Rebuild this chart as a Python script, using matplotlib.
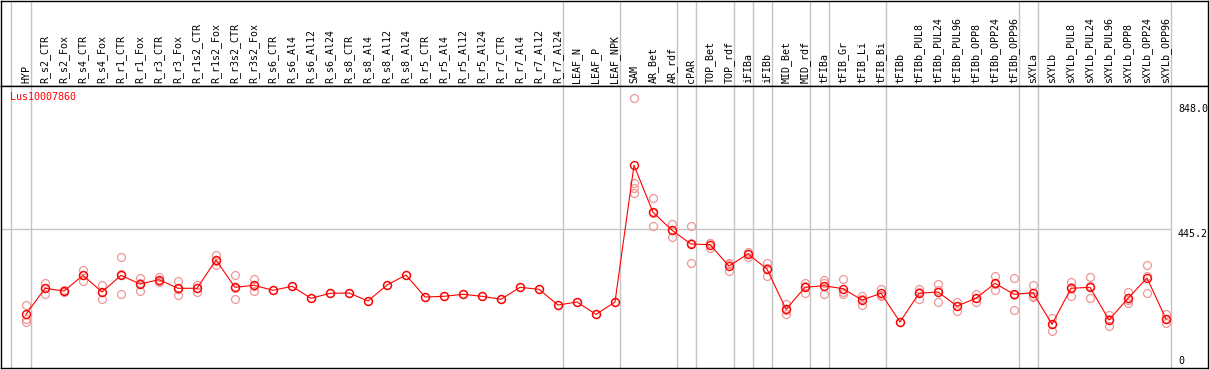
import numpy as np
import matplotlib
matplotlib.use("Agg")
import matplotlib.pyplot as plt
from matplotlib.path import Path
from matplotlib.markers import MarkerStyle

# ---------------- data ----------------
gene_id = "Lus10007860"

categories = ["HYP", "R_s2_CTR", "R_s2_Fox", "R_s4_CTR", "R_s4_Fox", "R_r1_CTR", "R_r1_Fox",
              "R_r3_CTR", "R_r3_Fox", "R_r1s2_CTR", "R_r1s2_Fox", "R_r3s2_CTR", "R_r3s2_Fox",
              "R_s6_CTR", "R_s6_Al4", "R_s6_Al12", "R_s6_Al24", "R_s8_CTR", "R_s8_Al4",
              "R_s8_Al12", "R_s8_Al24", "R_r5_CTR", "R_r5_Al4", "R_r5_Al12", "R_r5_Al24",
              "R_r7_CTR", "R_r7_Al4", "R_r7_Al12", "R_r7_Al24", "LEAF_N", "LEAF_P", "LEAF_NPK",
              "SAM", "AR_Bet", "AR_rdf", "cPAR", "TOP_Bet", "TOP_rdf", "iFIBa", "iFIBb",
              "MID_Bet", "MID_rdf", "tFIBa", "tFIB_Gr", "tFIB_Li", "tFIB_Bi", "tFIBb",
              "tFIBb_PUL8", "tFIBb_PUL24", "tFIBb_PUL96", "tFIBb_OPP8", "tFIBb_OPP24",
              "tFIBb_OPP96", "sXYLa", "sXYLb", "sXYLb_PUL8", "sXYLb_PUL24", "sXYLb_PUL96",
              "sXYLb_OPP8", "sXYLb_OPP24", "sXYLb_OPP96"]

mean_values = [167.6, 251.8, 243, 293.8, 239.8, 293.8, 265.7, 279.6, 251.8, 251.8,
               343.3, 255, 261.5, 245.3, 258.2, 219.4, 235.6, 236.6, 210.7, 262.4,
               294.8, 223.6, 225.9, 232.3, 225.9, 216.2, 255, 248.5, 197.7, 207.4,
               167.6, 207.4, 649.8, 497.7, 439.5, 395.1, 392.9, 323.9, 362.8, 314.2,
               183.8, 255, 260.2, 250.5, 213.9, 235.6, 142.7, 235.6, 239.8, 194.5,
               219.4, 267.9, 232.3, 237.5, 135.3, 251.8, 255, 149.2, 219.4, 285.1, 152.4]

replicate_values = [
    [198, 151, 144], [270, 232, 253], [246, 240, 243], [311, 276, 294], [261, 217, 241],
    [352, 232, 297], [285, 244, 268], [289, 273, 276], [275, 229, 251], [262, 240, 253],
    [360, 328, 341], [295, 216, 254], [281, 244, 260], [245], [258], [219], [236], [237],
    [211], [262], [295], [224], [226], [232], [226], [216], [255], [249], [198], [207],
    [168], [207], [867, 592, 575, 561], [543, 453, 497], [459, 419, 441], [453, 333, 399],
    [399, 381, 398], [335, 308, 329], [370, 354, 364], [333, 293, 317], [201, 169, 182],
    [270, 238, 258], [278, 234, 269], [281, 241, 232], [227, 198, 217], [250, 227, 230],
    [143], [250, 217, 239], [266, 208, 245], [208, 179, 196], [232, 206, 219],
    [292, 245, 267], [284, 182, 231], [262, 225, 226], [157, 113, 137], [272, 228, 256],
    [287, 219, 258], [164, 131, 153], [240, 203, 215], [326, 238, 292], [168, 139, 151]]

group_sizes = [1, 28, 3, 3, 1, 2, 1, 1, 2, 1, 3, 7, 1, 7]

y_tick_values = [848.0, 445.2, 0]
y_tick_labels = ["848.0", "445.2", "0"]
ref_line_value = 445.2

# ---------------- layout ----------------
W, H = 1209, 370
fig = plt.figure(figsize=(W / 100, H / 100), dpi=100)
fig.patch.set_facecolor("white")


def rect(l, t, r, b):
    return [l / W, 1 - b / H, (r - l) / W, (b - t) / H]


ax_lab = fig.add_axes(rect(1, 0.5, 1208, 85.7))
ax = fig.add_axes(rect(1, 85.7, 1208, 368), sharex=ax_lab)

x0_px, step_px = 26, 19
xlim = ((1 - x0_px) / step_px, (1208 - x0_px) / step_px)
ax.set_xlim(*xlim)
ax.set_ylim(-6.1, 907.4)
ax_lab.set_ylim(0, 1)

for a in (ax, ax_lab):
    a.set_xticks([])
    a.set_yticks([])
    for s in a.spines.values():
        s.set_color("black")
        s.set_linewidth(1.0)

mono = "DejaVu Sans Mono"
fs = 7.2
grid_c = "#c4c4c4"

# group separator lines
bounds = [-0.8] + list(np.cumsum(group_sizes) - 1 + 0.24)
for b in bounds:
    ax.axvline(b, color=grid_c, lw=1.0, zorder=1)
    ax_lab.axvline(b, color=grid_c, lw=1.0, zorder=1)

# reference horizontal line
ax.hlines(ref_line_value, xlim[0], bounds[-1], color=grid_c, lw=1.0, zorder=1)

# category labels
xs = np.arange(len(categories))
for x, lab in zip(xs, categories):
    ax_lab.text(x, 0.03, lab, rotation=90, ha="center", va="bottom",
                family=mono, fontsize=fs, color="black")

# marker: circle with four tiny ticks
circ = Path.unit_circle()
t = 1.16
tick_v = [(0, 1.0), (0, t), (0, -1.0), (0, -t), (1.0, 0), (t, 0), (-1.0, 0), (-t, 0)]
tick_c = [Path.MOVETO, Path.LINETO] * 4
ticks = Path(tick_v, tick_c)
mk = MarkerStyle(Path.make_compound_path(circ, ticks))
msize = 6.6

# replicates
rx = [i for i, r in enumerate(replicate_values) for _ in r]
ry = [v for r in replicate_values for v in r]
ax.plot(rx, ry, linestyle="none", marker=mk, markersize=msize, markerfacecolor="none",
        markeredgecolor="#ee9a9a", markeredgewidth=0.9, zorder=3)

# mean line
ax.plot(xs, mean_values, color="#ff0000", lw=0.8, zorder=4)
ax.plot(xs, mean_values, linestyle="none", marker=mk, markersize=msize,
        markerfacecolor="none", markeredgecolor="#ff0000", markeredgewidth=1.0, zorder=5)

# y value labels at right
xlab = (1178 - x0_px) / step_px
for v, tl in zip(y_tick_values, y_tick_labels):
    ax.text(xlab, v, tl, ha="left", va="top" if v > 0 else "bottom",
            family=mono, fontsize=fs, color="black", zorder=6)

# gene id
ax.text(0.0075, 0.978, gene_id, transform=ax.transAxes, ha="left", va="top",
        family=mono, fontsize=fs, color="#ff0000")

fig.savefig("out.png", dpi=100)
